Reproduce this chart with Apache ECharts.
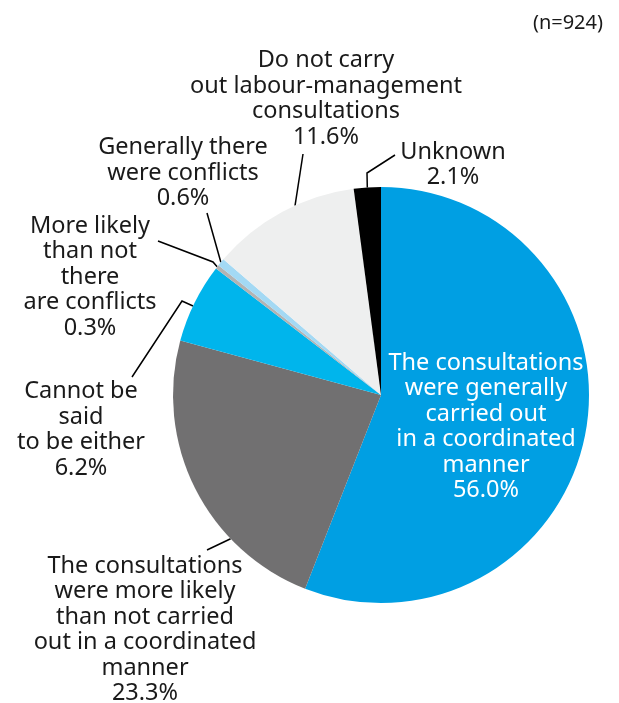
<!DOCTYPE html>
<html>
<head>
<meta charset="utf-8">
<script src="https://cdn.jsdelivr.net/npm/echarts@6/dist/echarts.min.js"></script>
<style>
  html, body { margin: 0; padding: 0; background: #ffffff; }
  #chart { width: 619px; height: 703px; }
</style>
</head>
<body>
<div id="chart"></div>
<script>
// Survey answers on labour-management consultations (share of respondents, %)
const categories = [
  'The consultations\nwere generally\ncarried out\nin a coordinated\nmanner',
  'The consultations\nwere more likely\nthan not carried\nout in a coordinated\nmanner',
  'Cannot be\nsaid\nto be either',
  'More likely\nthan not\nthere\nare conflicts',
  'Generally there\nwere conflicts',
  'Do not carry\nout labour-management\nconsultations',
  'Unknown'
];
const shares = [56.0, 23.3, 6.2, 0.3, 0.6, 11.6, 2.1];
const sampleNote = '(n=924)';

const sliceColors = ['#009fe3', '#717071', '#00b5ec', '#b3b3b3', '#a3d9f4', '#eeefef', '#000000'];

// Pie geometry (px)
const CX = 381, CY = 395, R = 208;

// Where each label block sits (centre) and the bends of its leader line.
// angleShift nudges the leader's start along the rim, in degrees.
const labelSpots = [
  { x: 486, y: 427 },
  { x: 145, y: 630, angleShift: -17, line: [[207, 550]] },
  { x: 81,  y: 430, angleShift: -1,  line: [[182, 301], [132, 377]] },
  { x: 90,  y: 277, angleShift: 0,   line: [[213, 262], [158, 241]] },
  { x: 183, y: 173, angleShift: 0,   line: [[207, 213]] },
  { x: 326, y: 99,  angleShift: 4,   line: [[303, 154]] },
  { x: 453, y: 165, angleShift: 0,   line: [[367, 173], [395, 155]] }
];

const total = shares.reduce((a, b) => a + b, 0);
const midAngles = [];
let acc = 0;
shares.forEach(v => { midAngles.push((acc + v / 2) / total * 360); acc += v; });

function rimPoint(i) {
  const deg = midAngles[i] + (labelSpots[i].angleShift || 0);
  const t = deg * Math.PI / 180;
  return [CX + R * Math.sin(t), CY - R * Math.cos(t)];
}

const FONT = "'Noto Sans', 'Open Sans', sans-serif";

const chart = echarts.init(document.getElementById('chart'), null, { renderer: 'canvas' });

chart.setOption({
  backgroundColor: '#ffffff',
  animation: false,
  title: {
    text: sampleNote,
    right: 11,
    top: 8,
    textStyle: { fontFamily: FONT, fontSize: 20, fontWeight: 'normal', color: '#1a1a1a' }
  },
  series: [{
    type: 'pie',
    center: [CX, CY],
    radius: [0, R],
    startAngle: 90,
    clockwise: true,
    avoidLabelOverlap: false,
    itemStyle: { borderWidth: 0 },
    label: {
      show: true,
      position: 'outside',
      fontFamily: FONT,
      fontSize: 23.5,
      lineHeight: 25.5,
      color: '#1a1a1a',
      align: 'center',
      formatter: p => p.name + '\n' + p.value.toFixed(1) + '%'
    },
    labelLine: {
      show: true,
      lineStyle: { color: '#000000', width: 1.5 }
    },
    labelLayout: function (params) {
      const i = params.dataIndex;
      const s = labelSpots[i];
      const out = { x: s.x, y: s.y, align: 'center', verticalAlign: 'middle' };
      if (s.line) {
        const pts = [rimPoint(i)].concat(s.line);
        if (pts.length === 2) pts.splice(1, 0, pts[0].slice());
        out.labelLinePoints = pts;
      }
      return out;
    },
    data: categories.map((name, i) => {
      const item = { name: name, value: shares[i], itemStyle: { color: sliceColors[i] } };
      if (i === 0) {
        item.label = { position: 'inside', color: '#ffffff' };
        item.labelLine = { show: false };
      }
      return item;
    })
  }]
});
</script>
</body>
</html>
